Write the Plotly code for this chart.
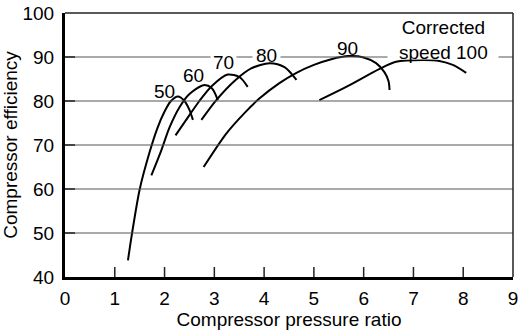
import plotly.graph_objects as go

# Speed lines: compressor pressure ratio (x) vs compressor efficiency (y, %)
pr_50 = [1.265, 1.345, 1.50, 1.70, 1.855, 2.00, 2.12, 2.27, 2.40, 2.50, 2.57]
eff_50 = [43.8, 49.8, 59.9, 68.4, 73.8, 77.6, 79.9, 81.0, 80.0, 78.0, 75.7]

pr_60 = [1.735, 1.935, 2.10, 2.30, 2.50, 2.785, 2.95, 3.07]
eff_60 = [63.1, 68.8, 74.0, 78.6, 81.6, 83.6, 82.9, 80.2]

pr_70 = [2.22, 2.50, 2.70, 2.95, 3.27, 3.51, 3.67]
eff_70 = [72.2, 76.8, 80.0, 83.4, 86.0, 85.4, 83.2]

pr_80 = [2.74, 3.04, 3.41, 3.74, 4.11, 4.41, 4.65]
eff_80 = [75.7, 80.2, 84.6, 87.4, 88.6, 87.7, 84.8]

pr_90 = [2.785, 3.24, 3.60, 3.91, 4.30, 4.65, 5.00, 5.35, 5.70, 6.00, 6.25, 6.42, 6.50, 6.52]
eff_90 = [65.0, 72.6, 77.2, 80.6, 84.0, 86.4, 88.2, 89.5, 90.2, 89.9, 88.6, 86.5, 84.5, 82.5]

pr_100 = [5.11, 5.65, 6.32, 6.65, 7.19, 7.52, 7.79, 8.06]
eff_100 = [80.2, 83.2, 87.3, 88.9, 89.3, 89.1, 88.2, 86.4]

curves = [(pr_50, eff_50), (pr_60, eff_60), (pr_70, eff_70),
          (pr_80, eff_80), (pr_90, eff_90), (pr_100, eff_100)]

# Curve labels
label_text = ["50", "60", "70", "80", "90", "Corrected<br>speed 100"]
label_x = [2.0, 2.585, 3.18, 4.04, 5.68, 7.60]
label_y = [82.1, 85.7, 88.7, 90.3, 92.0, 93.9]
# labels that break the 90 % gridline, and the gap widths (px)
gap_index = [2, 3, 5]
gap_width = [25, 27, 110]

x_ticks = [0, 1, 2, 3, 4, 5, 6, 7, 8, 9]
y_ticks = [40, 50, 60, 70, 80, 90, 100]
grid_y = [50, 60, 70, 80, 90]

X_RANGE = [0, 9]
Y_RANGE = [40, 100]

W, H = 518, 330
M = dict(l=65, r=5, t=13, b=53)
PLOT_W = W - M["l"] - M["r"]
PLOT_H = H - M["t"] - M["b"]
TICK_LEN = 10  # px

FONT = "Liberation Sans, Arial, sans-serif"
TICK = dict(color="#222", width=1.5)


def px_(v):
    return (v - X_RANGE[0]) / (X_RANGE[1] - X_RANGE[0])


def py_(v):
    return (v - Y_RANGE[0]) / (Y_RANGE[1] - Y_RANGE[0])


fig = go.Figure()
for xs, ys in curves:
    fig.add_trace(go.Scatter(x=xs, y=ys, mode="lines",
                             line=dict(color="black", width=2, shape="spline", smoothing=0.8),
                             showlegend=False, hoverinfo="skip"))

shapes = []
# horizontal gridlines (paper-referenced)
for g in grid_y:
    shapes.append(dict(type="line", xref="paper", yref="paper", x0=0, x1=1,
                       y0=py_(g), y1=py_(g), line=dict(color="#555", width=1), layer="above"))
# inside tick marks
for t in x_ticks[1:-1]:
    shapes.append(dict(type="line", xref="paper", yref="paper", x0=px_(t), x1=px_(t),
                       y0=0, y1=TICK_LEN / PLOT_H, line=TICK, layer="above"))
for t in y_ticks[1:-1]:
    shapes.append(dict(type="line", xref="paper", yref="paper", y0=py_(t), y1=py_(t),
                       x0=0, x1=TICK_LEN / PLOT_W, line=TICK, layer="above"))
# top and right frame lines
shapes.append(dict(type="line", xref="paper", yref="paper", x0=0, y0=1, x1=1, y1=1,
                   line=dict(color="#222", width=1.5), layer="above"))
shapes.append(dict(type="line", xref="paper", yref="paper", x0=1, y0=0, x1=1, y1=1,
                   line=dict(color="#222", width=1.5), layer="above"))

annotations = []
# white patches breaking the 90 gridline behind labels
for i, w in zip(gap_index, gap_width):
    annotations.append(dict(x=label_x[i], y=90, xref="x", yref="y", text=" ",
                            showarrow=False, width=w, height=3, bgcolor="white",
                            borderpad=0, font=dict(size=2)))
for t, x, y in zip(label_text, label_x, label_y):
    annotations.append(dict(x=x, y=y, xref="x", yref="y", text=t, showarrow=False,
                            font=dict(family=FONT, size=19, color="black")))

fig.update_layout(
    width=W, height=H,
    margin=M,
    paper_bgcolor="white", plot_bgcolor="white",
    font=dict(family=FONT, size=19, color="black"),
    annotations=annotations,
    shapes=shapes,
    showlegend=False,
)
fig.update_xaxes(range=X_RANGE, tickvals=x_ticks, ticktext=[str(v) for v in x_ticks],
                 showgrid=False, zeroline=False,
                 showline=True, linecolor="black", linewidth=3,
                 ticks="", ticklabeloverflow="allow", ticklabelstandoff=2,
                 title=dict(text="Compressor pressure ratio", standoff=2,
                            font=dict(family=FONT, size=19, color="black")),
                 tickfont=dict(family=FONT, size=19, color="black"), automargin=False)
fig.update_yaxes(range=Y_RANGE, tickvals=y_ticks, ticktext=[str(v) for v in y_ticks],
                 showgrid=False, zeroline=False,
                 showline=True, linecolor="black", linewidth=3,
                 ticks="", ticklabelstandoff=4,
                 title=dict(text="Compressor efficiency", standoff=0,
                            font=dict(family=FONT, size=19, color="black")),
                 tickfont=dict(family=FONT, size=19, color="black"), automargin=False)

fig.write_html("out.html")
